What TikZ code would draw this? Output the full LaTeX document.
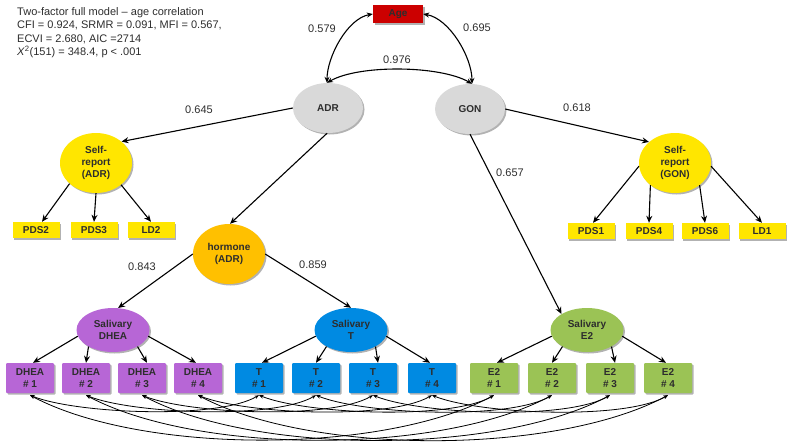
\documentclass[tikz,border=0pt]{standalone}
\usepackage{fontspec}
\setmainfont{Liberation Sans}
\usetikzlibrary{arrows.meta,shapes.geometric,shadows}
\definecolor{latgray}{RGB}{217,217,217}
\definecolor{agered}{RGB}{204,0,0}
\definecolor{sryellow}{RGB}{255,230,0}
\definecolor{hormorange}{RGB}{255,192,0}
\definecolor{dheapurple}{RGB}{183,102,214}
\definecolor{tblue}{RGB}{0,138,226}
\definecolor{egreen}{RGB}{155,195,85}
\definecolor{txt}{RGB}{45,45,45}
\begin{document}
\begin{tikzpicture}[x=1pt,y=-1pt,
  shapetext/.style={font=\fontsize{10}{12}\selectfont\bfseries, text=txt, align=center, inner sep=0pt},
  shad/.style={drop shadow={shadow xshift=1.5pt,shadow yshift=-1.5pt,opacity=0.3,fill=black}},
  latent/.style={ellipse, shapetext, shad, minimum width=70pt, minimum height=50pt, fill=latgray},
  bigcirc/.style={ellipse, shapetext, shad, minimum width=72pt, minimum height=60pt},
  salv/.style={ellipse, shapetext, shad, minimum width=73pt, minimum height=44pt},
  smallbox/.style={rectangle, shapetext, shad, minimum width=47pt, minimum height=16pt, fill=sryellow},
  measbox/.style={rectangle, shapetext, shad, minimum width=48pt, minimum height=30pt, rounded corners=1pt},
  load/.style={-{Stealth[length=7pt,width=6pt]}, line width=1.1pt, black},
  corr/.style={{Stealth[length=6pt,width=5pt]}-{Stealth[length=6pt,width=5pt]}, line width=1.1pt, black},
  resid/.style={{Stealth[length=4.5pt,width=3.5pt]}-{Stealth[length=4.5pt,width=3.5pt]}, line width=0.8pt, black},
  coef/.style={font=\fontsize{11}{13}\selectfont, text=txt, inner sep=0pt}
]
\useasboundingbox (0,0) rectangle (790,442);

% title block
\node[anchor=north west, align=left, font=\fontsize{11}{13.5}\selectfont, text=txt, inner sep=0pt] (title) at (17,7)
  {Two-factor full model – age correlation\\CFI = 0.924, SRMR = 0.091, MFI = 0.567,\\ECVI = 2.680, AIC =2714\\\textit{X}\textsuperscript{2}(151) = 348.4, p < .001};

% latent nodes
\node[rectangle, shapetext, shad, fill=agered, minimum width=50pt, minimum height=18pt] (age) at (398,14) {Age};
\node[latent] (adr) at (328,108) {ADR};
\node[latent] (gon) at (470,109) {GON};
\node[bigcirc, fill=sryellow] (sra) at (96,163) {Self-\\report\\(ADR)};
\node[bigcirc, fill=sryellow] (srg) at (675,163) {Self-\\report\\(GON)};
\node[bigcirc, fill=hormorange] (hor) at (229,254) {hormone\\(ADR)};
\node[salv, fill=dheapurple] (sd) at (113,330) {Salivary\\DHEA};
\node[salv, fill=tblue] (st) at (351,330) {Salivary\\T};
\node[salv, fill=egreen] (se) at (587,330) {Salivary\\E2};

% self-report indicators
\node[smallbox] (pds2) at (36,230) {PDS2};
\node[smallbox] (pds3) at (94,230) {PDS3};
\node[smallbox] (ld2) at (151,230) {LD2};
\node[smallbox] (pds1) at (591,231) {PDS1};
\node[smallbox] (pds4) at (649,231) {PDS4};
\node[smallbox] (pds6) at (705,231) {PDS6};
\node[smallbox] (ld1) at (762,231) {LD1};

% saliva measurements
\node[measbox, fill=dheapurple] (d1) at (30,378) {DHEA\\\# 1};
\node[measbox, fill=dheapurple] (d2) at (86,378) {DHEA\\\# 2};
\node[measbox, fill=dheapurple] (d3) at (142,378) {DHEA\\\# 3};
\node[measbox, fill=dheapurple] (d4) at (198,378) {DHEA\\\# 4};
\node[measbox, fill=tblue] (t1) at (259,378) {T\\\# 1};
\node[measbox, fill=tblue] (t2) at (316,378) {T\\\# 2};
\node[measbox, fill=tblue] (t3) at (373,378) {T\\\# 3};
\node[measbox, fill=tblue] (t4) at (432,378) {T\\\# 4};
\node[measbox, fill=egreen] (e1) at (494,378) {E2\\\# 1};
\node[measbox, fill=egreen] (e2) at (552,378) {E2\\\# 2};
\node[measbox, fill=egreen] (e3) at (610,378) {E2\\\# 3};
\node[measbox, fill=egreen] (e4) at (668,378) {E2\\\# 4};

% structural loadings
\draw[load] (adr.180) -- (sra.40);
\draw[load] (adr.-92) -- (hor.88);
\draw[load] (gon.0) -- (srg.141);
\draw[load] (gon.-90) -- (se.148);
\draw[load] (hor.180) -- (sd.77);
\draw[load] (hor.0) -- (st.90);

% self-report loadings
\draw[load] (sra.218) -- ([xshift=6pt]pds2.north);
\draw[load] (sra.-90) -- (pds3.north);
\draw[load] (sra.-41) -- (ld2.north);
\draw[load] (srg.185) -- ([xshift=2pt]pds1.north);
\draw[load] (srg.-138) -- (pds4.north);
\draw[load] (srg.-42) -- (pds6.north);
\draw[load] (srg.-5) -- (ld1.north);

% saliva loadings
\foreach \lat/\bx in {sd/d, st/t, se/e}{
  \draw[load] (\lat.190) -- ([xshift=3pt]\bx1.north);
  \draw[load] (\lat.214) -- (\bx2.north);
  \draw[load] (\lat.-34) -- ([xshift=5pt]\bx3.north);
  \draw[load] (\lat.-10) -- ([xshift=-2pt]\bx4.north);
}

% correlations
\draw[corr] (age.west) to[out=190,in=90,looseness=0.8] ([xshift=-1pt]adr.north);
\draw[corr] (age.east) to[out=-10,in=90,looseness=0.8] ([xshift=2pt]gon.north);
\draw[corr] ([xshift=-1pt]adr.north) to[out=30,in=150,looseness=0.65] ([xshift=2pt]gon.north);

% residual correlations
\foreach \i in {1,...,4}{
  \draw[resid] ([yshift=-2pt]d\i.south) to[out=-22,in=-150,looseness=0.55] ([yshift=-2pt]t\i.south);
  \draw[resid] ([yshift=-2pt]t\i.south) to[out=-22,in=-150,looseness=0.55] ([yshift=-2pt]e\i.south);
  \draw[resid] ([yshift=-2pt]d\i.south) to[out=-28,in=-152,looseness=0.7] ([yshift=-2pt]e\i.south);
}

% coefficients
\node[coef] (c579) at (322,29) {0.579};
\node[coef] (c695) at (477,28) {0.695};
\node[coef] (c976) at (397,60) {0.976};
\node[coef] (c645) at (199,110) {0.645};
\node[coef] (c618) at (577,108) {0.618};
\node[coef] (c657) at (510,173) {0.657};
\node[coef] (c843) at (142,267) {0.843};
\node[coef] (c859) at (313,265) {0.859};
\end{tikzpicture}
\end{document}
